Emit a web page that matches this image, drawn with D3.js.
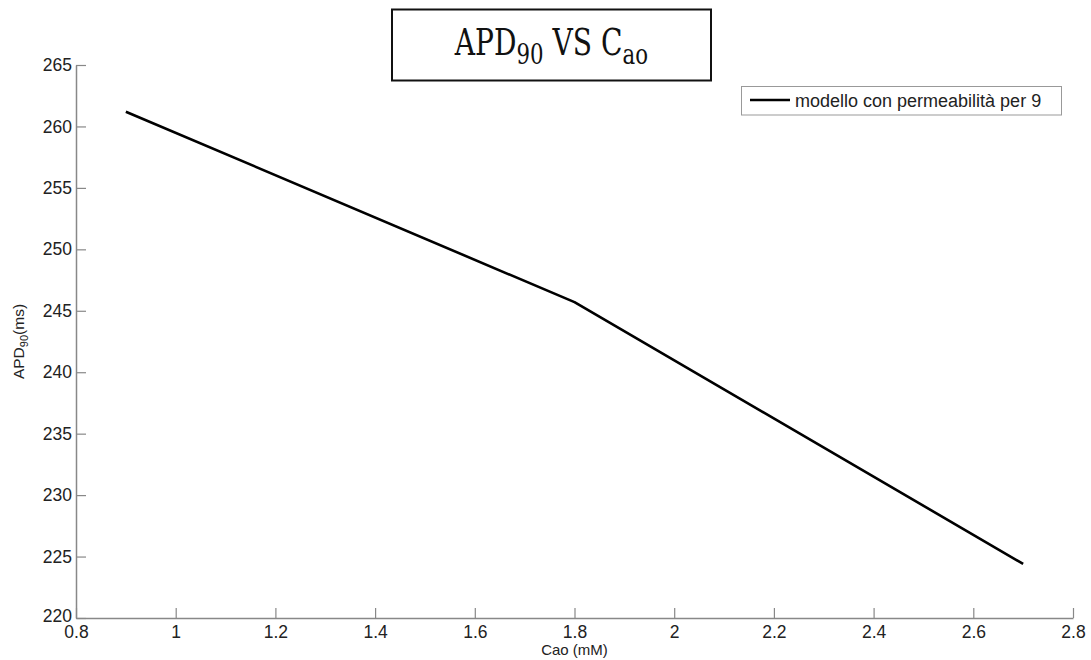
<!DOCTYPE html>
<html>
<head>
<meta charset="utf-8">
<script src="https://cdn.jsdelivr.net/npm/d3@7"></script>
<style>
html,body{margin:0;padding:0;background:#fff;}
svg{display:block;}
</style>
</head>
<body>
<svg id="chart" width="1091" height="660"></svg>
<script>
// Data
const cao = [0.9, 1.8, 2.7];
const apd90 = [261.2, 245.7, 224.4];
const xTicks = [0.8, 1, 1.2, 1.4, 1.6, 1.8, 2, 2.2, 2.4, 2.6, 2.8];
const yTicks = [220, 225, 230, 235, 240, 245, 250, 255, 260, 265];
const seriesName = "modello con permeabilità per 9";

(function () {
const svg = d3.select("#chart");
const mLeft = 76, mRight = 1073, mTop = 65, mBottom = 618;
const x = d3.scaleLinear().domain([0.8, 2.8]).range([mLeft, mRight]);
const y = d3.scaleLinear().domain([220, 265]).range([mBottom, mTop]);
const axisColor = "#888";
const font = "'Liberation Sans', Arial, sans-serif";

// X axis
const gx = svg.append("g").attr("transform", `translate(0,${mBottom})`)
  .call(d3.axisBottom(x).tickValues(xTicks).tickSizeInner(-10).tickSizeOuter(0).tickPadding(7.5)
    .tickFormat(d => String(+d.toFixed(1))));
gx.select(".domain").attr("stroke", axisColor).attr("stroke-width", 1.5);
gx.selectAll(".tick line").attr("stroke", axisColor).attr("stroke-width", 1.2);
gx.selectAll(".tick text").attr("fill", "#222").style("font-family", font).style("font-size", "17.5px");

// Y axis
const gy = svg.append("g").attr("transform", `translate(${mLeft},0)`)
  .call(d3.axisLeft(y).tickValues(yTicks).tickSizeInner(-10).tickSizeOuter(0).tickPadding(4));
gy.select(".domain").attr("stroke", axisColor).attr("stroke-width", 1.5);
gy.selectAll(".tick line").attr("stroke", axisColor).attr("stroke-width", 1.2);
gy.selectAll(".tick text").attr("fill", "#222").style("font-family", font).style("font-size", "17.5px");
gy.selectAll(".tick").filter(d => d === 220).select("text").attr("dy", "0.2em");

// Line
const data = cao.map((c, i) => ({x: c, y: apd90[i]}));
svg.append("path").datum(data)
  .attr("fill", "none").attr("stroke", "#000").attr("stroke-width", 2.6)
  .attr("stroke-linejoin", "round")
  .attr("d", d3.line().x(d => x(d.x)).y(d => y(d.y)));

// Axis labels
svg.append("text").attr("x", (mLeft + mRight) / 2).attr("y", 655)
  .attr("text-anchor", "middle").style("font-family", font).style("font-size", "15px").attr("fill", "#222")
  .text("Cao (mM)");
const yl = svg.append("text").attr("transform", `translate(24,${(mTop + mBottom) / 2}) rotate(-90)`)
  .attr("text-anchor", "middle").style("font-family", font).style("font-size", "15.5px").attr("fill", "#222");
yl.append("tspan").text("APD");
yl.append("tspan").attr("dy", 4).style("font-size", "11px").text("90");
yl.append("tspan").attr("dy", -4).text("(ms)");

// Legend
const lg = svg.append("g");
lg.append("rect").attr("x", 741.5).attr("y", 86.5).attr("width", 320).attr("height", 28.5)
  .attr("fill", "#fff").attr("stroke", "#999").attr("stroke-width", 1);
lg.append("line").attr("x1", 750).attr("x2", 790).attr("y1", 100).attr("y2", 100)
  .attr("stroke", "#000").attr("stroke-width", 2.6);
lg.append("text").attr("x", 795).attr("y", 106.5).style("font-family", font).style("font-size", "18px")
  .attr("fill", "#222").text(seriesName);

// Title box
svg.append("rect").attr("x", 392).attr("y", 9.5).attr("width", 319).attr("height", 71)
  .attr("fill", "#fff").attr("stroke", "#111").attr("stroke-width", 2);
const tf = "'DejaVu Serif', 'Liberation Serif', serif";
const tg = svg.append("g");
const tt = tg.append("text").attr("x", 0).attr("y", 0).style("font-family", tf).style("font-size", "37px").attr("fill", "#111");
tt.append("tspan").text("APD");
tt.append("tspan").attr("dy", 9).style("font-size", "28px").text("90");
tt.append("tspan").attr("dy", -9).text(" VS C");
tt.append("tspan").attr("dy", 9).style("font-size", "28px").text("ao");
const bb = tt.node().getBBox();
const sx = 194 / bb.width;
tg.attr("transform", `translate(454,55) scale(${sx},1) translate(${-bb.x},0)`);
})();
</script>
</body>
</html>
